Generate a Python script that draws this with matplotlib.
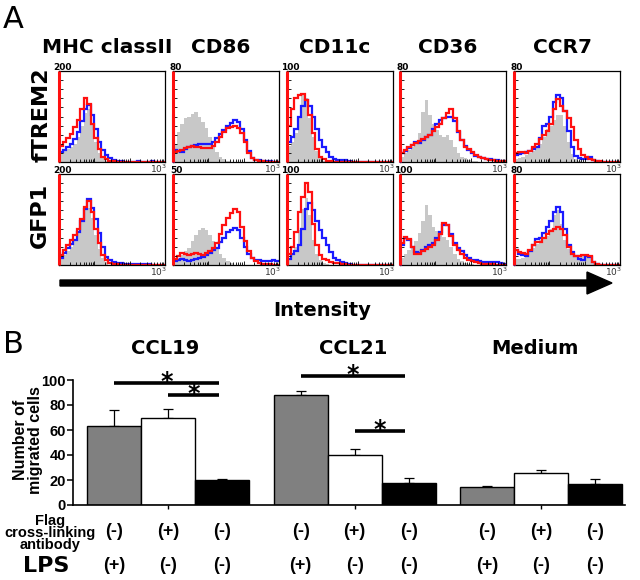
import numpy as np
import matplotlib
matplotlib.use('Agg')
import matplotlib.pyplot as plt
from matplotlib import transforms
from matplotlib.patches import FancyArrow

# ---------------- panel A: flow histograms (percent of axis max, 30 bins of 0.1 decade)
markers = ['MHC classII', 'CD86', 'CD11c', 'CD36', 'CCR7']
rows = ['fTREM2', 'GFP1']
ymax_ftrem2 = [200, 80, 100, 80, 80]
ymax_gfp1 = [200, 50, 100, 100, 80]

mhc_ftrem2_gray = [11, 12, 14, 16, 20, 27, 40, 54, 58, 42, 22, 10, 4, 1, 0, 0, 0, 0, 0, 0, 0, 0, 0, 0, 0, 0, 0, 0, 0, 0]
mhc_ftrem2_blue = [11, 13, 16, 20, 25, 33, 45, 58, 63, 52, 36, 22, 13, 8, 4, 2, 1, 1, 0.5, 0.5, 0.5, 0.5, 1, 0.5, 0.5, 0.5, 1, 0.5, 0.5, 0.5]
mhc_ftrem2_red = [18, 22, 26, 31, 38, 46, 58, 70, 64, 42, 26, 14, 6, 3, 1.5, 1, 0.5, 0.5, 0.5, 0.5, 0.5, 0.5, 0.5, 0.5, 0.5, 0.5, 0.5, 0.5, 0.5, 0.5]

cd86_ftrem2_gray = [20, 33, 42, 48, 50, 53, 55, 50, 44, 37, 27, 18, 11, 6, 3, 1, 0.5, 0, 0, 0, 0, 0, 0, 0, 0, 0, 0, 0, 0, 0]
cd86_ftrem2_blue = [13, 12, 11, 14, 16, 18, 19, 20, 20, 20, 20, 22, 26, 31, 35, 40, 43, 46, 44, 36, 24, 12, 4, 2, 2, 1, 1, 1, 0.5, 0.5]
cd86_ftrem2_red = [11, 12, 13, 15, 16, 18, 17, 16, 15, 15, 15, 18, 22, 28, 33, 37, 39, 40, 37, 32, 22, 10, 4, 2, 1, 1, 0.5, 0.5, 0.5, 0.5]

cd11c_ftrem2_gray = [18, 22, 32, 48, 75, 70, 48, 28, 12, 4, 1, 0.5, 0, 0, 0, 0, 0, 0, 0, 0, 0, 0, 0, 0, 0, 0, 0, 0, 0, 0]
cd11c_ftrem2_blue = [22, 27, 36, 50, 62, 68, 62, 50, 36, 24, 17, 11, 6, 3, 2, 2, 2, 1, 0.5, 0.5, 0, 0, 0, 0, 0, 0, 0, 0, 0, 0]
cd11c_ftrem2_red = [40, 58, 70, 74, 75, 68, 52, 32, 14, 6, 3, 1.5, 1, 0.5, 0.5, 0.5, 0.5, 0.5, 0.5, 0.5, 0.5, 0.5, 0.5, 0.5, 0.5, 0.5, 0.5, 0.5, 0.5, 0.5]

cd36_ftrem2_gray = [6, 10, 13, 17, 22, 32, 55, 68, 52, 42, 35, 30, 27, 30, 24, 17, 10, 6, 4, 2, 1, 1, 0.5, 0, 0, 0, 0, 0, 0, 0]
cd36_ftrem2_blue = [10, 12, 15, 19, 22, 21, 24, 27, 30, 36, 42, 46, 48, 49, 50, 45, 33, 24, 18, 13, 10, 7, 5, 4, 3, 3, 2, 2, 1.5, 1.5]
cd36_ftrem2_red = [10, 13, 17, 19, 21, 23, 25, 27, 30, 34, 38, 42, 48, 54, 58, 48, 34, 24, 17, 14, 11, 8, 6, 4, 3, 2, 2, 1.5, 1.5, 1.5]

ccr7_ftrem2_gray = [3, 4, 6, 8, 10, 12, 15, 20, 28, 36, 40, 46, 52, 52, 40, 22, 9, 3, 1, 0, 0, 0, 0, 0, 0, 0, 0, 0, 0, 0]
ccr7_ftrem2_blue = [8, 9, 10, 11, 12, 14, 17, 26, 40, 42, 50, 66, 74, 70, 56, 34, 16, 7, 4, 3, 3, 6, 2, 1, 0, 0, 0, 0, 0, 0]
ccr7_ftrem2_red = [10, 11, 11, 10, 12, 16, 20, 25, 30, 34, 42, 58, 69, 62, 56, 48, 38, 24, 14, 8, 5, 3, 2, 1, 1, 0.5, 0.5, 0.5, 0.5, 0.5]

mhc_gfp1_gray = [7, 11, 15, 20, 26, 35, 48, 60, 63, 52, 33, 18, 8, 3, 0, 0, 0, 0, 0, 0, 0, 0, 0, 0, 0, 0, 0, 0, 0, 0]
mhc_gfp1_blue = [8, 13, 19, 23, 28, 36, 48, 62, 72, 63, 50, 35, 20, 9, 5, 3, 2, 2, 1.5, 1.5, 1, 1, 1, 1, 1, 1, 0.5, 0.5, 0.5, 0.5]
mhc_gfp1_red = [11, 16, 22, 28, 33, 40, 50, 64, 70, 58, 40, 24, 11, 5, 2, 1, 1, 0.5, 0.5, 0.5, 0.5, 0.5, 0.5, 0.5, 0.5, 0.5, 0.5, 0.5, 0.5, 0.5]

cd86_gfp1_gray = [4, 8, 11, 15, 19, 26, 33, 38, 41, 38, 33, 26, 19, 12, 8, 4, 2, 0, 0, 0, 0, 0, 0, 0, 0, 0, 0, 0, 0, 0]
cd86_gfp1_blue = [4, 6, 7, 5, 4, 6, 7, 8, 9, 11, 13, 16, 19, 25, 30, 36, 39, 41, 38, 30, 20, 12, 8, 6, 5, 4, 4, 4, 5, 4]
cd86_gfp1_red = [7, 10, 13, 12, 11, 12, 13, 12, 11, 13, 15, 19, 24, 34, 44, 52, 57, 62, 58, 42, 26, 15, 8, 4, 2, 1, 1, 1, 0.5, 0.5]

cd11c_gfp1_gray = [6, 11, 20, 38, 62, 74, 55, 28, 12, 5, 2, 1, 0, 0, 0, 0, 0, 0, 0, 0, 0, 0, 0, 0, 0, 0, 0, 0, 0, 0]
cd11c_gfp1_blue = [7, 12, 15, 22, 40, 62, 68, 60, 48, 38, 30, 22, 14, 8, 5, 3, 2, 1, 0.5, 0.5, 0, 0, 0, 0, 0, 0, 0, 0, 0, 0]
cd11c_gfp1_red = [12, 20, 36, 58, 75, 90, 80, 45, 22, 11, 7, 5, 3, 2, 2, 1.5, 1, 0.5, 0.5, 0.5, 0.5, 0.5, 0.5, 0.5, 0.5, 0.5, 0.5, 0.5, 0.5, 0.5]

cd36_gfp1_gray = [8, 12, 17, 21, 26, 35, 48, 66, 55, 42, 37, 34, 31, 27, 20, 12, 7, 4, 2, 1, 1, 0, 0, 0, 0, 0, 0, 0, 0, 0]
cd36_gfp1_blue = [22, 30, 28, 20, 14, 13, 17, 20, 22, 24, 30, 36, 44, 44, 34, 24, 19, 15, 11, 8, 6, 5, 4, 3, 3, 3, 3, 3, 2, 1]
cd36_gfp1_red = [24, 31, 29, 20, 12, 12, 15, 18, 20, 22, 27, 34, 46, 44, 32, 22, 16, 12, 8, 6, 4, 3, 2, 1, 1, 1, 1, 0.5, 0.5, 0.5]

ccr7_gfp1_gray = [7, 7, 8, 11, 15, 19, 23, 27, 30, 32, 40, 55, 60, 45, 28, 18, 12, 10, 10, 10, 10, 8, 4, 0, 0, 0, 0, 0, 0, 0]
ccr7_gfp1_blue = [16, 12, 11, 10, 15, 22, 29, 30, 35, 42, 48, 58, 64, 58, 40, 22, 14, 10, 7, 6, 10, 9, 3, 1, 0, 0, 0, 0, 0, 0]
ccr7_gfp1_red = [16, 14, 13, 12, 16, 22, 25, 25, 30, 34, 37, 40, 42, 40, 33, 20, 12, 10, 10, 11, 11, 10, 3, 1, 0.5, 0.5, 0.5, 0.5, 0.5, 0.5]

# events piled in the first channel (percent of axis max)
spike_red_ftrem2 = [100, 100, 100, 100, 100]
spike_blue_ftrem2 = [0, 53, 0, 42, 0]
spike_red_gfp1 = [100, 100, 100, 100, 100]
spike_blue_gfp1 = [0, 0, 0, 61, 59]

# ---------------- panel B: migration assay
groups = ['CCL19', 'CCL21', 'Medium']
ccl19_mean = [63, 70, 20]
ccl19_err = [13, 7, 0.5]
ccl21_mean = [88, 40, 17.5]
ccl21_err = [3.5, 4.5, 4.3]
medium_mean = [14.7, 26, 16.8]
medium_err = [0.7, 2, 4.2]
flag_signs = ['(-)', '(+)', '(-)']
lps_signs = ['(+)', '(-)', '(-)']
# significance bars: (group, from bar, to bar, height)
sig_group = [0, 0, 1, 1]
sig_from = [0, 1, 0, 1]
sig_to = [2, 2, 2, 2]
sig_y = [97.6, 88, 103, 59]

hists = {
    ('fTREM2', 0): (mhc_ftrem2_gray, mhc_ftrem2_blue, mhc_ftrem2_red),
    ('fTREM2', 1): (cd86_ftrem2_gray, cd86_ftrem2_blue, cd86_ftrem2_red),
    ('fTREM2', 2): (cd11c_ftrem2_gray, cd11c_ftrem2_blue, cd11c_ftrem2_red),
    ('fTREM2', 3): (cd36_ftrem2_gray, cd36_ftrem2_blue, cd36_ftrem2_red),
    ('fTREM2', 4): (ccr7_ftrem2_gray, ccr7_ftrem2_blue, ccr7_ftrem2_red),
    ('GFP1', 0): (mhc_gfp1_gray, mhc_gfp1_blue, mhc_gfp1_red),
    ('GFP1', 1): (cd86_gfp1_gray, cd86_gfp1_blue, cd86_gfp1_red),
    ('GFP1', 2): (cd11c_gfp1_gray, cd11c_gfp1_blue, cd11c_gfp1_red),
    ('GFP1', 3): (cd36_gfp1_gray, cd36_gfp1_blue, cd36_gfp1_red),
    ('GFP1', 4): (ccr7_gfp1_gray, ccr7_gfp1_blue, ccr7_gfp1_red),
}
ymax = {'fTREM2': ymax_ftrem2, 'GFP1': ymax_gfp1}
spikes = {'fTREM2': (spike_blue_ftrem2, spike_red_ftrem2), 'GFP1': (spike_blue_gfp1, spike_red_gfp1)}

W, H = 640, 580
BOLD = dict(fontweight='bold', family='DejaVu Sans')
ARIAL = dict(fontweight='bold', family='Liberation Sans')


def fx(px):
    return px / W


def fy(py):
    return 1 - py / H


fig = plt.figure(figsize=(6.4, 5.8), dpi=100)

edges = np.logspace(0, 3, 31)
box_left = [59, 173, 287, 400, 514]
box_top = {'fTREM2': 71, 'GFP1': 174}
bw, bh = 106, 91

for row in rows:
    for i, name in enumerate(markers):
        ax = fig.add_axes([fx(box_left[i]), fy(box_top[row] + bh), bw / W, bh / H])
        top = ymax[row][i]
        gray, blue, red = [np.array(v) * top / 100 for v in hists[(row, i)]]
        ax.stairs(gray, edges, fill=True, facecolor='#c8c8c8', edgecolor='none')
        ax.stairs(blue, edges, color='#1a1aff', lw=1.6, baseline=None)
        ax.stairs(red, edges, color='#ff1010', lw=1.6, baseline=None)
        sb, sr = spikes[row]
        if sb[i] > 0:
            ax.vlines(1.0, 0, sb[i] * top / 100, color='#1a1aff', lw=2.2, zorder=3, clip_on=False)
        ax.vlines(1.0, 0, sr[i] * top / 100, color='#ff1010', lw=2.2, zorder=3.1, clip_on=False)
        ax.set_xscale('log')
        ax.set_xlim(1, 1000)
        ax.set_ylim(0, top)
        ax.set_yticks(np.linspace(0, top, 11))
        ax.tick_params(which='both', direction='in', labelbottom=False, labelleft=False,
                       width=0.6, length=2)
        ax.tick_params(which='major', length=3)
        for s in ax.spines.values():
            s.set_linewidth(0.9)
        ax.text(0.03, 0.99, str(top), transform=ax.transAxes, fontsize=6.5, ha='center',
                va='bottom', **BOLD)
        ax.text(1.02, -0.01, '10$^3$', transform=ax.transAxes, fontsize=6.5, ha='right',
                va='top', color='#333333')

for i, name in enumerate(markers):
    fig.text(fx(box_left[i] + bw / 2 - 5), fy(53), name, fontsize=14.5, ha='center',
             va='baseline', **BOLD)

fig.text(fx(42), fy(115), 'fTREM2', rotation=90, fontsize=16, ha='center', va='center', **BOLD)
fig.text(fx(40), fy(215), 'GFP1', rotation=90, fontsize=16, ha='center', va='center', **BOLD)
fig.text(fx(3), fy(28), 'A', fontsize=22, ha='left', va='baseline')
fig.text(fx(3), fy(353), 'B', fontsize=22, ha='left', va='baseline')

arrow = FancyArrow(0.60, (H - 283) / 100, 5.52, 0, width=0.06, head_width=0.22,
                   head_length=0.25, length_includes_head=True, color='black',
                   transform=fig.dpi_scale_trans)
fig.add_artist(arrow)
fig.text(fx(322), fy(316), 'Intensity', fontsize=14, ha='center', va='baseline', **BOLD)

# ---------------- panel B
ax = fig.add_axes([fx(73), fy(505), 552 / W, 150 / H])
gap = 3.45
means = [ccl19_mean, ccl21_mean, medium_mean]
errs = [ccl19_err, ccl21_err, medium_err]
bar_colors = ['#808080', 'white', 'black']
for g in range(3):
    xs = g * gap + np.arange(3)
    ax.bar(xs, means[g], width=1.0, color=bar_colors, edgecolor='black', linewidth=1, zorder=2)
    ax.errorbar(xs, means[g], yerr=[np.zeros(3), errs[g]], fmt='none', ecolor='black',
                elinewidth=0.9, capsize=3.5, capthick=0.9, zorder=1)

ax.set_xlim(-0.76, 2 * gap + 2.55)
ax.set_ylim(0, 120)
ax.set_yticks([0, 20, 40, 60, 80, 100])
ax.set_xticks([g * gap + 1 for g in range(3)])
ax.set_xticklabels([])
ax.spines['top'].set_visible(False)
ax.spines['right'].set_visible(False)
ax.spines['left'].set_bounds(0, 100)
ax.spines['left'].set_linewidth(1.2)
ax.spines['bottom'].set_linewidth(1.2)
ax.tick_params(axis='y', direction='out', length=4, width=1.1, pad=1, labelsize=10.5)
ax.tick_params(axis='x', direction='out', length=3, width=1)
for lab in ax.get_yticklabels():
    lab.set_fontweight('bold')
    lab.set_family('Liberation Sans')

for k in range(len(sig_y)):
    x0 = sig_group[k] * gap + sig_from[k]
    x1 = sig_group[k] * gap + sig_to[k] - 0.06
    ax.plot([x0, x1], [sig_y[k], sig_y[k]], color='black', lw=2.6, solid_capstyle='butt',
            clip_on=False)
    ax.text((x0 + x1) / 2, sig_y[k] - 4.5, '*', fontsize=17, ha='center', va='baseline',
            clip_on=False, **BOLD)

title_x = [165, 353, 535]
for g, name in enumerate(groups):
    fig.text(fx(title_x[g]), fy(354), name, fontsize=14, ha='center', va='baseline', **BOLD)

trans = transforms.blended_transform_factory(ax.transData, fig.transFigure)
for g in range(3):
    for i in range(3):
        ax.text(g * gap + i, fy(532), flag_signs[i], transform=trans, fontsize=13,
                ha='center', va='center', **ARIAL)
        ax.text(g * gap + i, fy(566), lps_signs[i], transform=trans, fontsize=13,
                ha='center', va='center', **ARIAL)

fig.text(fx(28), fy(440), 'Number of\nmigrated cells', rotation=90, fontsize=11.5,
         ha='center', va='center', linespacing=0.95, **ARIAL)
fig.text(fx(50), fy(533), 'Flag\ncross-linking\nantibody', fontsize=10.5, ha='center',
         va='center', linespacing=0.86, **ARIAL)
fig.text(fx(46), fy(566), 'LPS', fontsize=16, ha='center', va='center', **BOLD)

fig.savefig('out.png', dpi=100)
